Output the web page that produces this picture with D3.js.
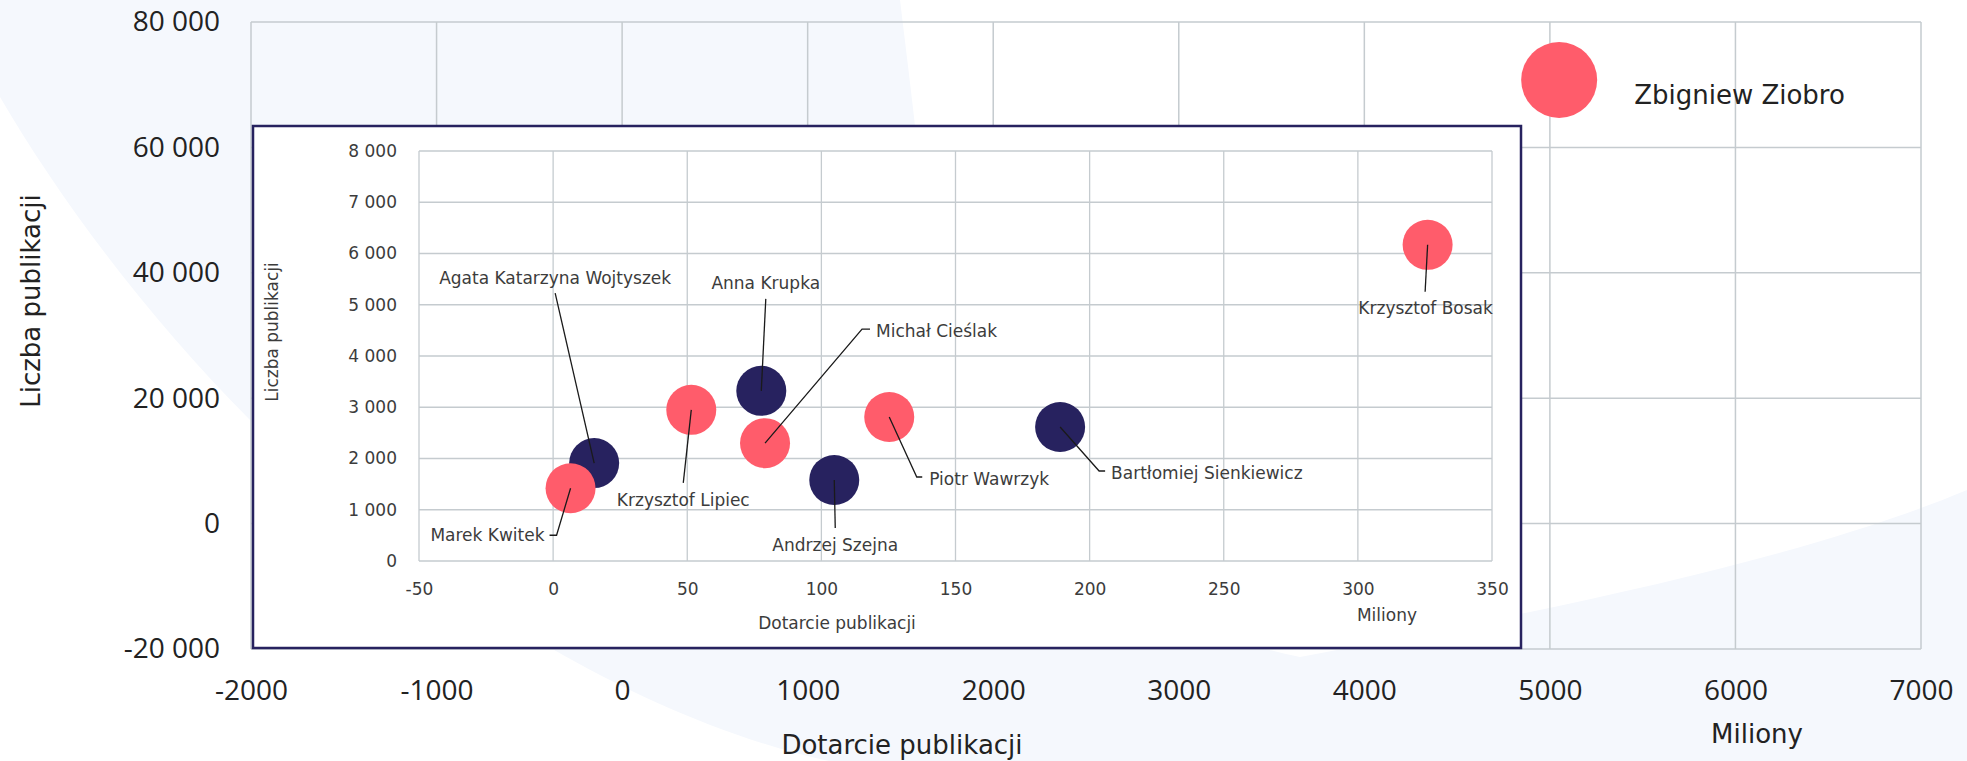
<!DOCTYPE html>
<html>
<head>
<meta charset="utf-8">
<script src="https://cdn.jsdelivr.net/npm/d3@7"></script>
<style>
  body { margin: 0; background: #fff; }
  svg { display: block; }
</style>
</head>
<body>
<div id="chart"></div>
<script>
// inner chart (zoomed part): reach in millions vs number of publications
const names = ["Agata Katarzyna Wojtyszek", "Marek Kwitek", "Krzysztof Lipiec", "Anna Krupka",
  "Michał Cieślak", "Andrzej Szejna", "Piotr Wawrzyk", "Bartłomiej Sienkiewicz", "Krzysztof Bosak"];
const reach = [15.3, 6.5, 51.5, 77.6, 79, 104.8, 125.3, 189, 326];
const pubs = [1910, 1420, 2950, 3320, 2300, 1580, 2810, 2615, 6170];
const groups = ["b", "a", "a", "b", "a", "b", "a", "b", "a"];

// outer chart: only the outlier
const outerNames = ["Zbigniew Ziobro"];
const outerReach = [5050];
const outerPubs = [70750];
const outerGroups = ["a"];

// tick values
const outerXTicks = [-2000, -1000, 0, 1000, 2000, 3000, 4000, 5000, 6000, 7000];
const outerYTicks = [-20000, 0, 20000, 40000, 60000, 80000];
const innerXTicks = [-50, 0, 50, 100, 150, 200, 250, 300, 350];
const innerYTicks = [0, 1000, 2000, 3000, 4000, 5000, 6000, 7000, 8000];

// label placement (pixel offsets from the bubble centre)
const labelLayout = {
  "Agata Katarzyna Wojtyszek": { path: [[0, 0], [-39, -170]], text: [-39, -185], anchor: "middle" },
  "Marek Kwitek": { path: [[0, 0], [-14, 47], [-21, 47]], text: [-26, 47], anchor: "end" },
  "Krzysztof Lipiec": { path: [[0, 0], [-8, 73]], text: [-8, 90], anchor: "middle" },
  "Anna Krupka": { path: [[0, 0], [4.5, -92]], text: [4.5, -108], anchor: "middle" },
  "Michał Cieślak": { path: [[0, 0], [97, -114], [105, -114]], text: [111, -112], anchor: "start" },
  "Andrzej Szejna": { path: [[0, 0], [1, 48]], text: [1, 65], anchor: "middle" },
  "Piotr Wawrzyk": { path: [[0, 0], [27.5, 60], [33, 60]], text: [40, 62], anchor: "start" },
  "Bartłomiej Sienkiewicz": { path: [[0, 0], [39, 44], [45, 44]], text: [51, 46], anchor: "start" },
  "Krzysztof Bosak": { path: [[0, 0], [-2.5, 47]], text: [-2, 63], anchor: "middle" },
  "Zbigniew Ziobro": { path: null, text: [75, 15], anchor: "start" }
};

const W = 1967, H = 761;
const gridColor = "#c5cbcf";
const navy = "#27225f";
const color = d3.scaleOrdinal().domain(["a", "b"]).range(["#ff5c6b", navy]);

const pl = d3.formatLocale({ decimal: ",", thousands: "\u00a0", grouping: [3], currency: ["", " zł"], minus: "-" });
const fmtGroup = pl.format(",d");
const fmtPlain = pl.format("d");

const svg = d3.select("#chart").append("svg")
  .attr("width", W)
  .attr("height", H);

// decorative background band
svg.append("path")
  .attr("d", "M0,0 L900,0 C906,50 911,90 915,126 C960,420 1100,620 1300,657 " +
    "C1550,610 1800,560 1967,490 L1967,761 L829,761 C740,742 640,700 549,647 " +
    "C420,570 300,480 250,420 C150,320 60,200 0,97 Z")
  .attr("fill", "#f5f8fd");

// ---------- outer chart ----------
const outer = { left: 251, right: 1921, top: 22, bottom: 649 };
const xOuter = d3.scaleLinear().domain([-2000, 7000]).range([outer.left, outer.right]);
const yOuter = d3.scaleLinear().domain([-20000, 80000]).range([outer.bottom, outer.top]);

const gOuter = svg.append("g").attr("class", "outer");

gOuter.append("g").selectAll("line")
  .data(outerXTicks)
  .join("line")
  .attr("x1", d => xOuter(d)).attr("x2", d => xOuter(d))
  .attr("y1", outer.top).attr("y2", outer.bottom)
  .attr("stroke", gridColor).attr("stroke-width", 1.5);

gOuter.append("g").selectAll("line")
  .data(outerYTicks)
  .join("line")
  .attr("x1", outer.left).attr("x2", outer.right)
  .attr("y1", d => yOuter(d)).attr("y2", d => yOuter(d))
  .attr("stroke", gridColor).attr("stroke-width", 1.5);

const outerXAxis = gOuter.append("g")
  .attr("transform", `translate(0, ${outer.bottom})`)
  .call(d3.axisBottom(xOuter).tickValues(outerXTicks).tickFormat(fmtPlain).tickSize(0).tickPadding(31));
const outerYAxis = gOuter.append("g")
  .attr("transform", `translate(${outer.left}, 0)`)
  .call(d3.axisLeft(yOuter).tickValues(outerYTicks).tickFormat(fmtGroup).tickSize(0).tickPadding(31));

[outerXAxis, outerYAxis].forEach(ax => {
  ax.select(".domain").remove();
  ax.selectAll("text")
    .attr("font-family", "'Open Sans', sans-serif")
    .attr("font-size", 28)
    .attr("fill", "#222");
});

gOuter.append("text")
  .attr("transform", "translate(40, 301) rotate(-90)")
  .attr("text-anchor", "middle")
  .attr("font-family", "'DejaVu Sans', sans-serif")
  .attr("font-size", 26)
  .attr("fill", "#222")
  .text("Liczba publikacji");

gOuter.append("text")
  .attr("x", 902).attr("y", 745).attr("dy", "0.36em")
  .attr("text-anchor", "middle")
  .attr("font-family", "'DejaVu Sans', sans-serif")
  .attr("font-size", 26)
  .attr("fill", "#222")
  .text("Dotarcie publikacji");

gOuter.append("text")
  .attr("x", 1757).attr("y", 734).attr("dy", "0.36em")
  .attr("text-anchor", "middle")
  .attr("font-family", "'DejaVu Sans', sans-serif")
  .attr("font-size", 26)
  .attr("fill", "#222")
  .text("Miliony");

const outerData = outerNames.map((n, i) => ({ name: n, x: outerReach[i], y: outerPubs[i], group: outerGroups[i] }));

gOuter.append("g").selectAll("circle")
  .data(outerData)
  .join("circle")
  .attr("cx", d => xOuter(d.x))
  .attr("cy", d => yOuter(d.y))
  .attr("r", 38)
  .attr("fill", d => color(d.group));

gOuter.append("g").selectAll("text")
  .data(outerData)
  .join("text")
  .attr("x", d => xOuter(d.x) + labelLayout[d.name].text[0])
  .attr("y", d => yOuter(d.y) + labelLayout[d.name].text[1])
  .attr("dy", "0.36em")
  .attr("text-anchor", d => labelLayout[d.name].anchor)
  .attr("font-family", "'DejaVu Sans', sans-serif")
  .attr("font-size", 26)
  .attr("fill", "#222")
  .text(d => d.name);

// ---------- inset chart ----------
const box = { x: 253, y: 126, w: 1268, h: 522 };
svg.append("rect")
  .attr("x", box.x).attr("y", box.y)
  .attr("width", box.w).attr("height", box.h)
  .attr("fill", "#fff")
  .attr("stroke", navy)
  .attr("stroke-width", 2.5);

const inner = { left: 419, right: 1492, top: 151, bottom: 561 };
const xInner = d3.scaleLinear().domain([-50, 350]).range([inner.left, inner.right]);
const yInner = d3.scaleLinear().domain([0, 8000]).range([inner.bottom, inner.top]);

const gInner = svg.append("g").attr("class", "inner");

gInner.append("g").selectAll("line")
  .data(innerXTicks)
  .join("line")
  .attr("x1", d => xInner(d)).attr("x2", d => xInner(d))
  .attr("y1", inner.top).attr("y2", inner.bottom)
  .attr("stroke", gridColor).attr("stroke-width", 1.3);

gInner.append("g").selectAll("line")
  .data(innerYTicks)
  .join("line")
  .attr("x1", inner.left).attr("x2", inner.right)
  .attr("y1", d => yInner(d)).attr("y2", d => yInner(d))
  .attr("stroke", gridColor).attr("stroke-width", 1.3);

const innerXAxis = gInner.append("g")
  .attr("transform", `translate(0, ${inner.bottom})`)
  .call(d3.axisBottom(xInner).tickValues(innerXTicks).tickFormat(fmtPlain).tickSize(0).tickPadding(22));
const innerYAxis = gInner.append("g")
  .attr("transform", `translate(${inner.left}, 0)`)
  .call(d3.axisLeft(yInner).tickValues(innerYTicks).tickFormat(fmtGroup).tickSize(0).tickPadding(22));

[innerXAxis, innerYAxis].forEach(ax => {
  ax.select(".domain").remove();
  ax.selectAll("text")
    .attr("font-family", "'DejaVu Sans', sans-serif")
    .attr("font-size", 17)
    .attr("fill", "#3c3c3c");
});

gInner.append("text")
  .attr("transform", "translate(278, 332) rotate(-90)")
  .attr("text-anchor", "middle")
  .attr("font-family", "'DejaVu Sans', sans-serif")
  .attr("font-size", 17)
  .attr("fill", "#3c3c3c")
  .text("Liczba publikacji");

gInner.append("text")
  .attr("x", 837).attr("y", 623).attr("dy", "0.36em")
  .attr("text-anchor", "middle")
  .attr("font-family", "'DejaVu Sans', sans-serif")
  .attr("font-size", 17)
  .attr("fill", "#3c3c3c")
  .text("Dotarcie publikacji");

gInner.append("text")
  .attr("x", 1387).attr("y", 615).attr("dy", "0.36em")
  .attr("text-anchor", "middle")
  .attr("font-family", "'DejaVu Sans', sans-serif")
  .attr("font-size", 17)
  .attr("fill", "#3c3c3c")
  .text("Miliony");

const data = names.map((n, i) => ({ name: n, x: reach[i], y: pubs[i], group: groups[i] }));

gInner.append("g").selectAll("circle")
  .data(data)
  .join("circle")
  .attr("cx", d => xInner(d.x))
  .attr("cy", d => yInner(d.y))
  .attr("r", 25)
  .attr("fill", d => color(d.group));

// leader lines
const line = d3.line();
gInner.append("g").selectAll("path")
  .data(data)
  .join("path")
  .attr("d", d => {
    const cx = xInner(d.x), cy = yInner(d.y);
    return line(labelLayout[d.name].path.map(p => [cx + p[0], cy + p[1]]));
  })
  .attr("fill", "none")
  .attr("stroke", "#1a1a1a")
  .attr("stroke-width", 1.3);

gInner.append("g").selectAll("text")
  .data(data)
  .join("text")
  .attr("x", d => xInner(d.x) + labelLayout[d.name].text[0])
  .attr("y", d => yInner(d.y) + labelLayout[d.name].text[1])
  .attr("dy", "0.36em")
  .attr("text-anchor", d => labelLayout[d.name].anchor)
  .attr("font-family", "'DejaVu Sans', sans-serif")
  .attr("font-size", 17)
  .attr("fill", "#3c3c3c")
  .text(d => d.name);
</script>
</body>
</html>
